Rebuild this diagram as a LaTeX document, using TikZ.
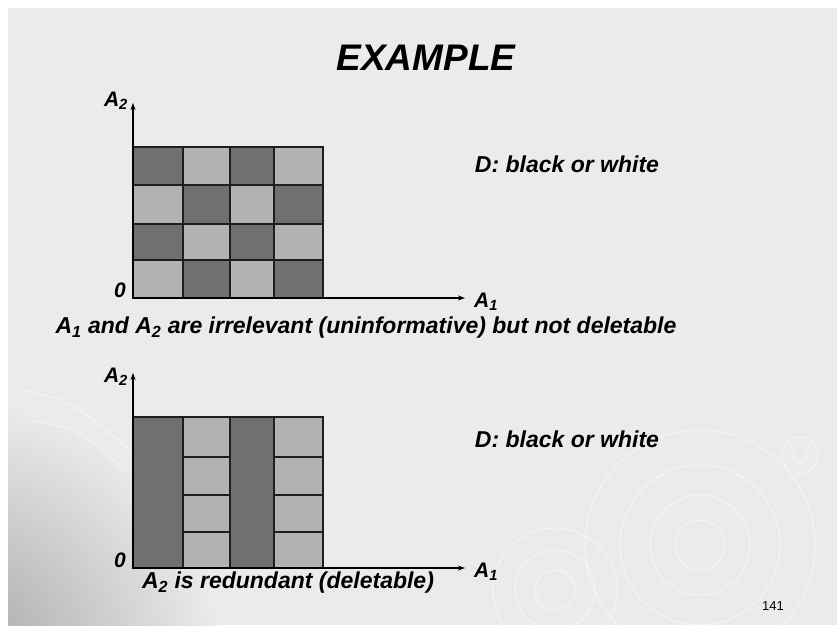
\documentclass[tikz,border=0pt]{standalone}
\usepackage{fontspec}
\setmainfont{Liberation Sans}
\usetikzlibrary{arrows.meta}

\definecolor{slidebg}{HTML}{EBEBEB}
\definecolor{celldark}{HTML}{707070}
\definecolor{celllight}{HTML}{B2B2B2}
\definecolor{gridline}{HTML}{1E1E1E}

\begin{document}
\begin{tikzpicture}[x=1pt, y=-1pt,
    lbl/.style={font=\bfseries\itshape\fontsize{23}{27}\selectfont, inner sep=0pt},
    axlbl/.style={font=\bfseries\itshape\fontsize{21}{25}\selectfont, inner sep=0pt},
    cell/.style={draw=gridline, line width=1.8pt},
    axis/.style={draw=black, line width=1.3pt, -{Stealth[length=7pt,width=5pt]}},
    ripple/.style={draw=white, line width=1.2pt, opacity=0.45}]
  % slide background
  \fill[white] (0,0) rectangle (837,625);
  \fill[slidebg] (8,8) rectangle (837,625);
  \useasboundingbox (0,0) rectangle (837,625);
  \begin{scope}
    \clip (8,8) rectangle (837,625);
    \shade[inner color=black!35, outer color=slidebg] (-40,660) circle (260);
    \foreach \r in {25,50,80,115} \draw[ripple] (700,545) circle (\r);
    \foreach \r in {20,40,62} \draw[ripple] (555,590) circle (\r);
    \foreach \r in {8,18} \draw[ripple] (800,455) circle (\r);
    \draw[ripple] (20,390) .. controls (70,400) .. (130,450);
    \draw[ripple] (30,420) .. controls (80,430) .. (125,470);
  \end{scope}

  \node[font=\bfseries\itshape\fontsize{37}{44}\selectfont, inner sep=0pt] (title) at (426,58) {EXAMPLE};

  % upper chart: checkerboard
  \foreach \ya/\yb [count=\i] in {147/185,185/224,224/260,260/298}
    \foreach \xa/\xb [count=\j] in {133/183,183/230,230/274,274/323} {
      \pgfmathtruncatemacro\tone{mod(\i+\j,2)}
      \ifnum\tone=0 \def\cellfill{celldark}\else \def\cellfill{celllight}\fi
      \draw[cell, fill=\cellfill] (\xa,\ya) rectangle (\xb,\yb);
    }
  \coordinate (o1) at (133,298);
  \coordinate (y1) at (133,103);
  \coordinate (x1) at (465,298);
  \draw[axis] (o1) -- (y1);
  \draw[axis] (o1) -- (x1);
  \node[axlbl] (a2up) at (116,101) {A\textsubscript{2}};
  \node[axlbl] (a1up) at (486,302) {A\textsubscript{1}};
  \node[axlbl] (zeroup) at (120,290) {0};
  \node[lbl] (dup) at (567,164) {D: black or white};
  \node[lbl] (capup) at (366,328) {A\textsubscript{1} and A\textsubscript{2} are irrelevant (uninformative) but not deletable};

  % lower chart: stripes
  \foreach \xa/\xb in {133/183,230/274}
    \draw[cell, fill=celldark] (\xa,417) rectangle (\xb,568);
  \foreach \xa/\xb in {183/230,274/323}
    \foreach \ya/\yb in {417/457,457/495,495/532,532/568}
      \draw[cell, fill=celllight] (\xa,\ya) rectangle (\xb,\yb);
  \coordinate (o2) at (133,568);
  \coordinate (y2) at (133,373);
  \coordinate (x2) at (465,568);
  \draw[axis] (o2) -- (y2);
  \draw[axis] (o2) -- (x2);
  \node[axlbl] (a2low) at (116,377) {A\textsubscript{2}};
  \node[axlbl] (a1low) at (486,572) {A\textsubscript{1}};
  \node[axlbl] (zerolow) at (120,560) {0};
  \node[lbl] (dlow) at (567,439) {D: black or white};
  \node[lbl] (caplow) at (288,583) {A\textsubscript{2} is redundant (deletable)};

  \node[font=\fontsize{13}{15}\selectfont, inner sep=0pt] (pagenum) at (773,606) {141};
\end{tikzpicture}
\end{document}
